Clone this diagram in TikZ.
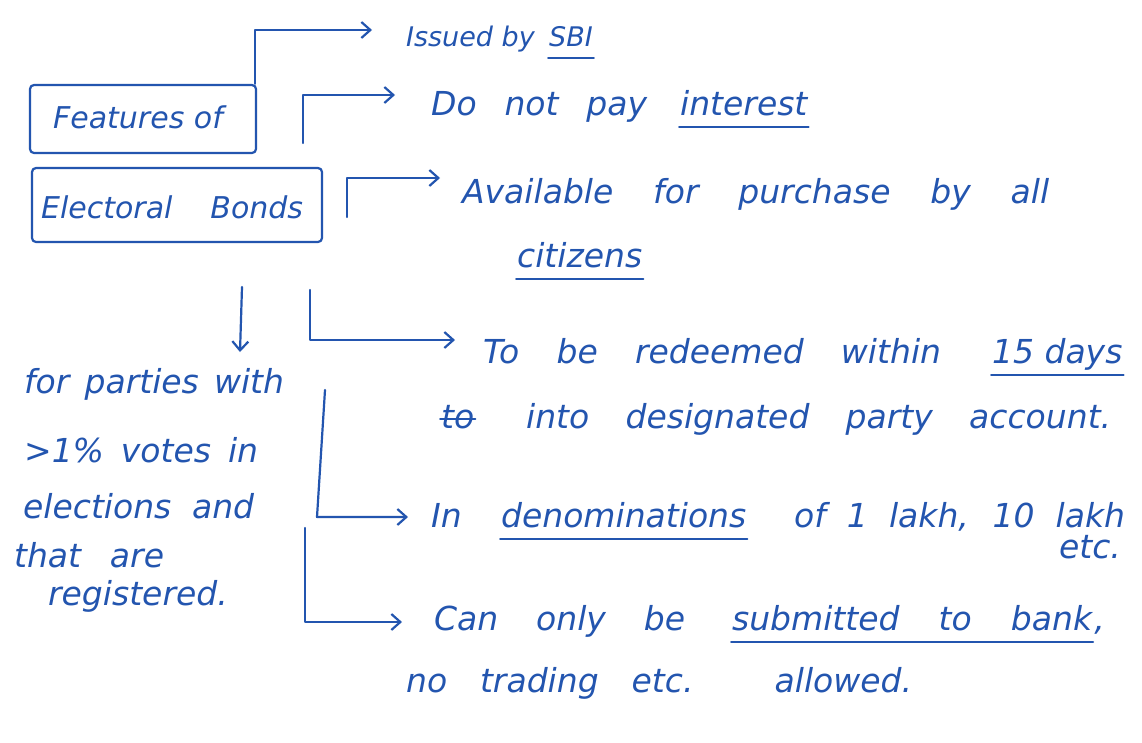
\documentclass[tikz,border=0pt]{standalone}
\usepackage{fontspec}
\setmainfont{DejaVu Sans}
\usetikzlibrary{arrows.meta}
\definecolor{ink}{RGB}{35,85,175}
\newcommand{\fitw}[2]{\makebox[#1][s]{#2}}
\begin{document}
\begin{tikzpicture}[x=1pt,y=-1pt, line width=2.2pt, draw=ink,
  txt/.style={anchor=base west, inner sep=0pt, font=\fontsize{33}{40}\selectfont\itshape, text=ink},
  small/.style={font=\fontsize{27}{32}\selectfont\itshape},
  box/.style={draw=ink, rounded corners=4pt, inner sep=0pt, font=\fontsize{30}{36}\selectfont\itshape, text=ink},
  arr/.style={-{Straight Barb[length=9pt,width=16pt]}, line cap=round, line join=round},
  uline/.style={line width=2pt, line cap=round}]
\useasboundingbox[fill=white] (0,0) rectangle (1142,742);

% title boxes
\node[box, minimum width=226pt, minimum height=68pt] (feat) at (143,119) {};
\node[txt, font=\fontsize{30}{36}\selectfont\itshape] (featT) at (52,128) {Features of};
\node[box, minimum width=290pt, minimum height=74pt] (elec) at (177,205) {};
\node[txt, font=\fontsize{30}{36}\selectfont\itshape] (elecT) at (40,218) {\fitw{262pt}{Electoral Bonds}};

% texts
\node[txt, small] (sbiA) at (405,46) {Issued by};
\node[txt, small] (sbiB) at (548,46) {SBI};
\node[txt] (intA) at (430,115) {\fitw{216pt}{Do not pay}};
\node[txt] (intB) at (679,115) {interest};
\node[txt] (avail) at (461,203) {\fitw{587pt}{Available for purchase by all}};
\node[txt] (cit) at (516,267) {citizens};
\node[txt] (redA) at (482,363) {\fitw{458pt}{To be redeemed within}};
\node[txt] (redB) at (991,363) {15 days};
\node[txt] (accA) at (440,428) {to};
\node[txt] (accB) at (525,428) {\fitw{585pt}{into designated party account.}};
\node[txt] (denA) at (430,527) {In};
\node[txt] (denB) at (500,527) {denominations};
\node[txt] (denC) at (793,527) {\fitw{331pt}{of 1 lakh, 10 lakh}};
\node[txt] (etc) at (1058,558) {etc.};
\node[txt] (subA) at (433,630) {\fitw{251pt}{Can only be}};
\node[txt] (subB) at (731,630) {\fitw{360pt}{submitted to bank}};
\node[txt] (subC) at (subB.base east) {,};
\node[txt] (trad) at (405,692) {\fitw{506pt}{no trading etc. allowed.}};

\node[txt] (p1) at (23,393) {\fitw{260pt}{for parties with}};
\node[txt] (p2) at (23,462) {\fitw{234pt}{>1\% votes in}};
\node[txt] (p3) at (22,518) {\fitw{231pt}{elections and}};
\node[txt] (p4) at (13,567) {\fitw{150pt}{that are}};
\node[txt] (p5) at (47,605) {\fitw{186pt}{registered.}};

% underlines and strike
\foreach \w in {sbiB,intB,cit,redB,denB,subB}
  \draw[uline] ([yshift=-12pt]\w.base west) -- ([yshift=-12pt]\w.base east);
\draw[uline] ([yshift=9pt]accA.base west) -- ([yshift=9pt]accA.base east);

% connector anchors
\coordinate (c2) at (303,143);
\coordinate (c3) at (347,217);
\coordinate (c4) at (310,290);
\coordinate (c5) at (325,390);
\coordinate (c6) at (305,528);
\coordinate (cd) at (242,287);
\coordinate (d1) at (240,352);

% connectors
\draw[arr] ([xshift=-2pt]feat.north east) |- ([xshift=-33pt,yshift=16pt]sbiA.base west);
\draw[arr] (c2) |- ([xshift=-35pt,yshift=20pt]intA.base west);
\draw[arr] (c3) |- ([xshift=-21pt,yshift=25pt]avail.base west);
\draw[arr] (c4) |- ([xshift=-27pt,yshift=23pt]redA.base west);
\draw[arr] (c5) -- (317,517) -- ([xshift=-22pt,yshift=10pt]denA.base west);
\draw[arr] (c6) |- ([xshift=-31pt,yshift=8pt]subA.base west);
\draw[arr] (cd) -- (d1);
\end{tikzpicture}
\end{document}
